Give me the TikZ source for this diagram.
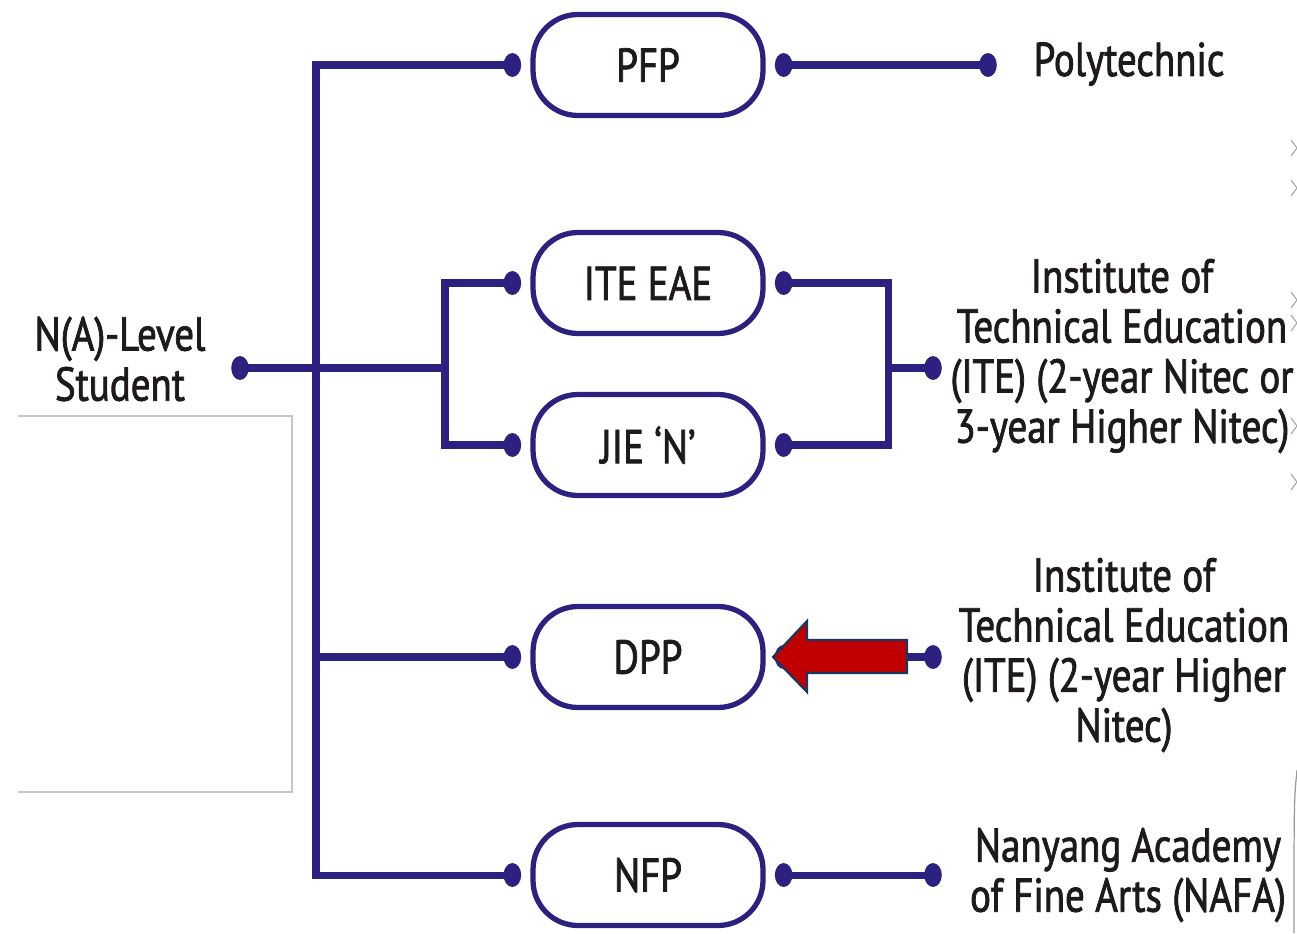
\documentclass[tikz,border=0pt]{standalone}
\usepackage{fontspec}
\setmainfont{PT Sans}[FakeStretch=0.82, FakeBold=1.6]
\usepackage{tikz}
\usetikzlibrary{positioning}
\definecolor{navy}{RGB}{44,33,128}
\definecolor{inkdark}{RGB}{30,26,28}
\definecolor{arrowred}{RGB}{192,0,0}
\definecolor{arrowedge}{RGB}{23,55,94}

\begin{document}
\begin{tikzpicture}[x=0.02cm, y=-0.02cm,
  every node/.style = {text=inkdark, font=\fontsize{27}{28.5}\selectfont},
  course/.style = {shape=rectangle, draw=navy, line width=3pt,
    rounded corners=0.9cm, minimum width=4.6cm, minimum height=2.02cm},
  dest/.style = {align=center},
  link/.style = {draw=navy, line width=4pt}]
  \clip (0,0) rectangle (1297,933);
  \fill[white] (0,0) rectangle (1297,933);

  % courses
  \node[course] (pfp) at (648,65) {PFP};
  \node[course] (eae) at (648,283) {ITE EAE};
  \node[course] (jie) at (648,445) {JIE ‘N’};
  \node[course] (dpp) at (648,657) {DPP};
  \node[course] (nfp) at (648,875) {NFP};

  % where they lead
  \node[dest] (student) at (120,359) {N(A)-Level\\Student};
  \node[dest] (poly) at (1129,64) {Polytechnic};
  \node[dest] (ite) at (1122,356) {Institute of\\Technical Education\\(ITE) (2-year Nitec or\\3-year Higher Nitec)};
  \node[dest] (itehn) at (1124,655) {Institute of\\Technical Education\\(ITE) (2-year Higher\\Nitec)};
  \node[dest] (nafa) at (1128,875) {Nanyang Academy\\of Fine Arts (NAFA)};

  \foreach \c in {pfp,eae,jie,dpp,nfp} {
    \coordinate[left=0.36cm of \c] (\c L);
    \coordinate[right=0.36cm of \c] (\c R);
  }
  \coordinate (studentdot) at (240,368);
  \coordinate (fork) at (445,368);
  \coordinate (join) at (888,368);
  \coordinate (trunktop) at (316,65);
  \coordinate (trunkbot) at (316,875);
  \coordinate (polydot) at (988,65);
  \coordinate (itedot) at (933,368);
  \coordinate (itehndot) at (933,657);
  \coordinate (nafadot) at (933,875);

  % connectors
  \draw[link] (pfpL) -- (trunktop) -- (trunkbot) -- (nfpL);
  \draw[link] (studentdot) -- (fork);
  \draw[link] (eaeL) -| (fork) |- (jieL);
  \draw[link] (dppL) -- (trunktop |- dppL);
  \draw[link] (pfpR) -- (polydot);
  \draw[link] (eaeR) -| (join) |- (jieR);
  \draw[link] (join) -- (itedot);
  \draw[link] (dppR) -- (itehndot);
  \draw[link] (nfpR) -- (nafadot);
  \foreach \p in {pfpL,pfpR,eaeL,eaeR,jieL,jieR,dppL,dppR,nfpL,nfpR,
    studentdot,polydot,itedot,itehndot,nafadot}
    \fill[navy] (\p) ellipse (5pt and 6.8pt);

  % red pointer at DPP
  \filldraw[fill=arrowred, draw=arrowedge, line width=1.2pt, line join=miter]
    (773,657) -- (807,621) -- (807,640) -- (907,640) -- (907,673)
    -- (807,673) -- (807,692) -- cycle;

  % blank panel on the left
  \draw[black!22, line width=0.6pt] (18,416) -- (292,416) -- (292,792) -- (18,792);

  % edge marks on the right
  \foreach \y in {140,180,292,315,418,474}
    \draw[black!35, line width=0.6pt] (1291,\y) -- (1297,\y+8) -- (1291,\y+16);
  \draw[black!40, line width=0.7pt] (1297,770) .. controls (1294,800) .. (1294,933);
\end{tikzpicture}
\end{document}
